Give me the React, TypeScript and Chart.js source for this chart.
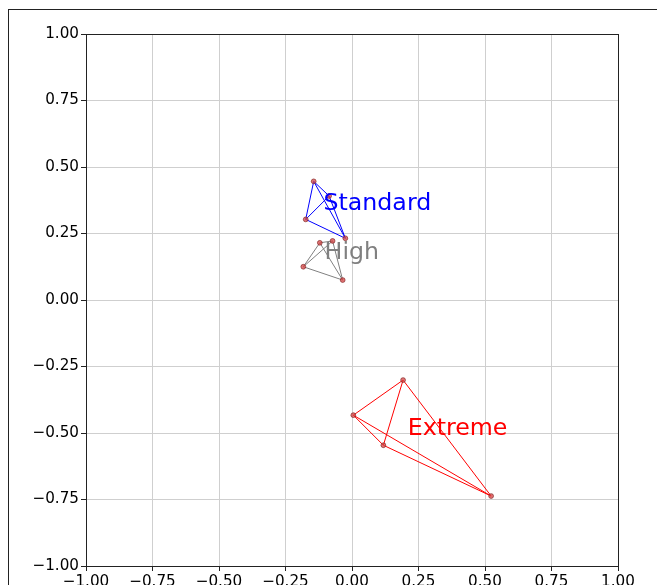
import React, { useEffect, useRef } from "react";
import { Chart, registerables } from "chart.js";

Chart.register(...registerables);

const groupNames = ["Standard", "High", "Extreme"];
const groupColors = ["#0000ff", "#808080", "#ff0000"];
const standardX = [-0.144, -0.174, -0.025, -0.086];
const standardY = [0.446, 0.303, 0.232, 0.391];
const highX = [-0.121, -0.073, -0.183, -0.035];
const highY = [0.215, 0.222, 0.125, 0.075];
const extremeX = [0.192, 0.005, 0.118, 0.523];
const extremeY = [-0.301, -0.433, -0.546, -0.737];
const tickValues = [-1, -0.75, -0.5, -0.25, 0, 0.25, 0.5, 0.75, 1];

const groupXs = [standardX, highX, extremeX];
const groupYs = [standardY, highY, extremeY];

const FONT = "'DejaVu Sans', sans-serif";

const fmt = (v: number) => {
  const s = Number(v).toFixed(2);
  return s.startsWith("-") ? "\u2212" + s.slice(1) : s;
};

const boxAndLabels = {
  id: "boxAndLabels",
  afterDatasetsDraw(chart: any) {
    const { ctx, chartArea, scales } = chart;
    ctx.save();
    ctx.font = `23.7px ${FONT}`;
    ctx.textAlign = "left";
    ctx.textBaseline = "alphabetic";
    groupNames.forEach((name, g) => {
      const xs = groupXs[g];
      const ys = groupYs[g];
      const cx = xs.reduce((a, b) => a + b, 0) / xs.length;
      const cy = ys.reduce((a, b) => a + b, 0) / ys.length;
      ctx.fillStyle = groupColors[g];
      ctx.fillText(name, scales.x.getPixelForValue(cx), scales.y.getPixelForValue(cy) + 1);
    });
    ctx.strokeStyle = "#222";
    ctx.lineWidth = 1;
    ctx.strokeRect(
      Math.round(chartArea.left) + 0.5,
      Math.round(chartArea.top) + 0.5,
      Math.round(chartArea.right - chartArea.left),
      Math.round(chartArea.bottom - chartArea.top)
    );
    ctx.restore();
  },
};

export default function App() {
  const ref = useRef<HTMLCanvasElement>(null);
  useEffect(() => {
    if (!ref.current) return;
    const datasets: any[] = [];
    groupNames.forEach((_, g) => {
      const xs = groupXs[g];
      const ys = groupYs[g];
      for (let i = 0; i < xs.length; i++) {
        for (let j = i + 1; j < xs.length; j++) {
          datasets.push({
            type: "line",
            data: [
              { x: xs[i], y: ys[i] },
              { x: xs[j], y: ys[j] },
            ],
            borderColor: groupColors[g],
            borderWidth: 1,
            pointRadius: 0,
            fill: false,
            order: 2,
          });
        }
      }
    });
    groupNames.forEach((_, g) => {
      datasets.push({
        type: "scatter",
        data: groupXs[g].map((x, i) => ({ x, y: groupYs[g][i] })),
        backgroundColor: "rgba(215,70,70,0.75)",
        borderColor: "rgba(130,35,35,0.85)",
        borderWidth: 0.8,
        pointRadius: 2.4,
        order: 1,
      });
    });
    const tickOpts = {
      color: "#000",
      font: { family: FONT, size: 15.2 },
      padding: 2,
      autoSkip: false,
      maxRotation: 0,
      callback: (v: any) => fmt(Number(v)),
    };
    const chart = new Chart(ref.current, {
      type: "scatter",
      data: { datasets },
      plugins: [boxAndLabels],
      options: {
        animation: false,
        responsive: false,
        events: [],
        layout: { padding: { left: 0, top: 24, right: 71, bottom: 0 } },
        plugins: { legend: { display: false }, tooltip: { enabled: false } },
        scales: {
          x: {
            type: "linear",
            min: -1,
            max: 1,
            afterBuildTicks: (s: any) => {
              s.ticks = tickValues.map((v) => ({ value: v }));
            },
            afterFit: (s: any) => {
              s.height = 64;
            },
            ticks: tickOpts,
            grid: { color: "#cfcfcf", lineWidth: 1, tickColor: "#222", tickLength: 5 },
            border: { display: false },
          },
          y: {
            type: "linear",
            min: -1,
            max: 1,
            afterBuildTicks: (s: any) => {
              s.ticks = tickValues.map((v) => ({ value: v }));
            },
            afterFit: (s: any) => {
              s.width = 77;
            },
            ticks: tickOpts,
            grid: { color: "#cfcfcf", lineWidth: 1, tickColor: "#222", tickLength: 5 },
            border: { display: false },
          },
        },
      },
    } as any);
    return () => chart.destroy();
  }, []);
  return (
    <div style={{ position: "fixed", left: 0, top: 0, width: 657, height: 585, overflow: "hidden", background: "#fff" }}>
      <div
        style={{
          position: "absolute",
          left: 8,
          top: 9,
          width: 680,
          height: 620,
          border: "1px solid #222",
          background: "#fff",
        }}
      >
        <canvas ref={ref} width={680} height={620} style={{ display: "block", width: 680, height: 620 }} />
      </div>
    </div>
  );
}
